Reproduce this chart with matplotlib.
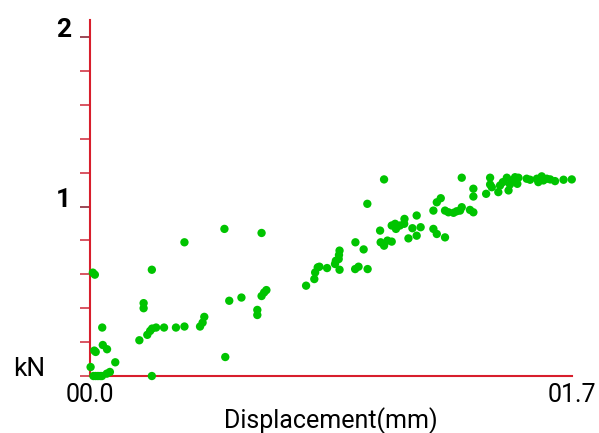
import numpy as np
import matplotlib
matplotlib.use('Agg')
import matplotlib.pyplot as plt
from matplotlib.ticker import MultipleLocator

plt.rcParams['font.family'] = ['Roboto', 'DejaVu Sans']

# displacement (mm) and load (kN)
disp = [0.002, 0.010, 0.017, 0.020, 0.015, 0.043, 0.045, 0.060, 0.089, 0.059, 0.070,
        0.012, 0.020, 0.028, 0.036, 0.042,
        0.174, 0.189, 0.189, 0.202, 0.212, 0.219, 0.218, 0.233, 0.261, 0.303, 0.333,
        0.333, 0.388, 0.397, 0.403, 0.474, 0.477, 0.491, 0.534, 0.590, 0.590,
        0.605, 0.605, 0.614, 0.622, 0.218,
        0.762, 0.791, 0.794, 0.803, 0.809, 0.836, 0.864, 0.867, 0.880, 0.878, 0.877,
        0.880, 0.936, 0.965, 0.935, 0.947, 0.979, 0.978, 1.037, 1.023, 1.025, 1.037,
        1.049, 1.064, 1.064, 1.076, 1.079, 1.093, 1.109, 1.108, 1.123, 1.137, 1.152,
        1.166, 1.152, 1.211, 1.211, 1.223, 1.252, 1.223, 1.237, 1.252, 1.264, 1.282,
        1.293, 1.305, 1.311, 1.311, 1.340, 1.352, 1.352, 1.352, 1.397, 1.411, 1.411,
        1.417, 1.440, 1.446, 1.456, 1.470, 1.476, 1.481, 1.487, 1.499, 1.511, 1.507,
        1.540, 1.552, 1.576, 1.581, 1.593, 1.599, 1.611, 1.623, 1.640, 1.670, 1.699]
load = [0.053, 0.610, 0.598, 0.142, 0.150, 0.286, 0.183, 0.158, 0.081, 0.014, 0.024,
        0.000, 0.000, 0.000, 0.000, 0.000,
        0.211, 0.430, 0.400, 0.243, 0.266, 0.280, 0.627, 0.286, 0.286, 0.286, 0.292,
        0.789, 0.292, 0.315, 0.349, 0.868, 0.112, 0.444, 0.463, 0.390, 0.360,
        0.844, 0.472, 0.493, 0.507, 0.000,
        0.533, 0.572, 0.611, 0.641, 0.645, 0.637, 0.661, 0.680, 0.740, 0.714, 0.690,
        0.627, 0.789, 0.747, 0.631, 0.645, 0.631, 1.016, 1.160, 0.858, 0.789, 0.769,
        0.799, 0.793, 0.888, 0.898, 0.868, 0.888, 0.927, 0.898, 0.812, 0.872, 0.828,
        0.878, 0.947, 0.976, 0.868, 0.838, 0.818, 1.025, 1.049, 0.976, 0.966, 0.963,
        0.972, 0.976, 0.996, 1.170, 0.980, 0.966, 1.105, 1.059, 1.075, 1.170, 1.130,
        1.114, 1.085, 1.124, 1.144, 1.170, 1.095, 1.130, 1.154, 1.173, 1.170, 1.134,
        1.164, 1.158, 1.164, 1.144, 1.178, 1.154, 1.164, 1.160, 1.150, 1.158, 1.160]

x_ticks = [0.0, 1.7]
x_tick_labels = ['00.0', '01.7']
y_ticks = [1, 2]
y_tick_labels = ['1', '2']

fig = plt.figure(figsize=(5.99, 4.33), dpi=100)
ax = fig.add_axes([0.1503, 0.1316, 0.8047, 0.822])

ax.scatter(disp, load, s=36, color='#00c400', edgecolors='none', zorder=3, clip_on=False)

ax.set_xlim(0, 1.7)
ax.set_ylim(0, 2.1)

for side in ['top', 'right']:
    ax.spines[side].set_visible(False)
for side in ['left', 'bottom']:
    ax.spines[side].set_color('#d81e2c')
    ax.spines[side].set_linewidth(1.5)

ax.set_xticks(x_ticks)
ax.set_xticklabels(x_tick_labels, fontsize=18)
ax.tick_params(axis='x', length=0, pad=5)

ax.set_yticks(y_ticks)
ax.set_yticklabels(y_tick_labels, fontsize=19, fontweight='bold')
ax.yaxis.set_minor_locator(MultipleLocator(0.2))
ax.tick_params(axis='y', which='major', length=7.5, width=1.2, color='#8b2a3a', pad=6)
ax.tick_params(axis='y', which='minor', length=7.5, width=1.2, color='#d23848')
for lab in ax.get_yticklabels():
    lab.set_va('baseline')

ax.set_xlabel('Displacement(mm)', fontsize=18, labelpad=0)
ax.text(-0.093, 0.02, 'kN', transform=ax.transAxes, fontsize=19,
        ha='right', va='center')

fig.savefig('out.png', dpi=100)
